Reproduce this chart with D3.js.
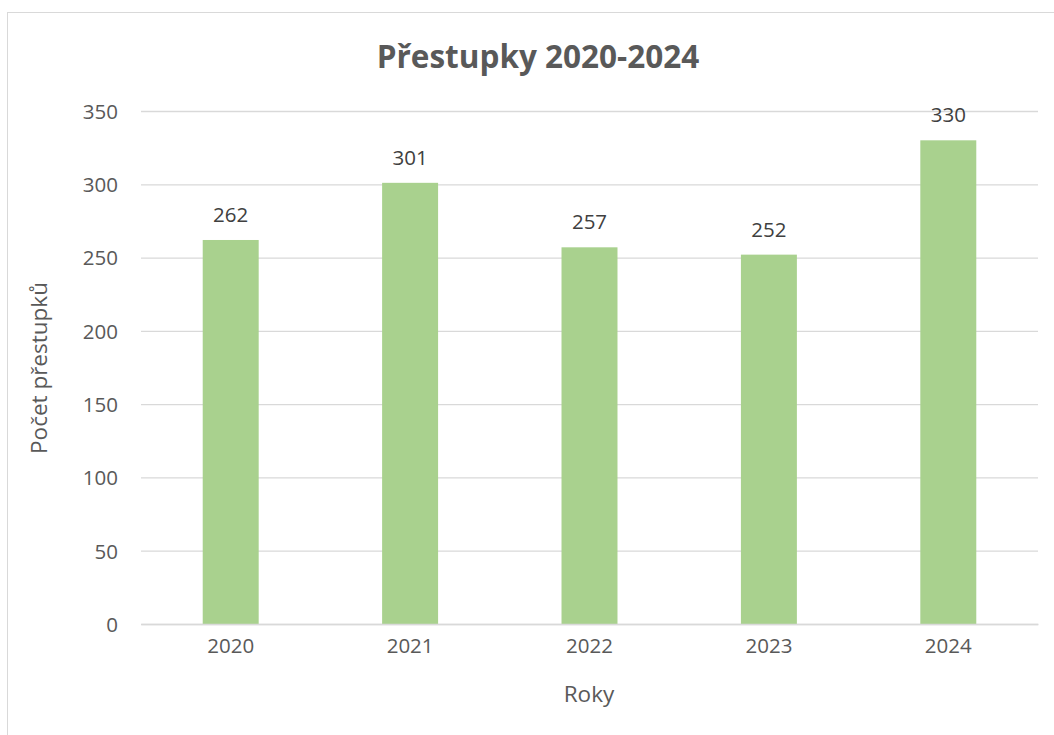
<!DOCTYPE html>
<html>
<head>
<meta charset="utf-8">
<script src="https://cdn.jsdelivr.net/npm/d3@7"></script>
<style>
  html, body { margin: 0; padding: 0; background: #fff; }
  svg { display: block; }
  text { font-family: "Open Sans", "DejaVu Sans", sans-serif; }
</style>
</head>
<body>
<svg id="chart" width="1054" height="735"></svg>
<script>
const categories = ["2020", "2021", "2022", "2023", "2024"];
const values = [262, 301, 257, 252, 330];
const yTicks = [0, 50, 100, 150, 200, 250, 300, 350];
const titleText = "Přestupky 2020-2024";
const xTitle = "Roky";
const yTitle = "Počet přestupků";

const svg = d3.select("#chart");
const W = 1054, H = 735;
const plot = { left: 141, right: 1038, top: 111, bottom: 624 };

svg.append("rect").attr("width", W).attr("height", H).attr("fill", "#fff");
// chart border
svg.append("rect")
  .attr("x", 7.5).attr("y", 12.5)
  .attr("width", W + 10).attr("height", H + 10)
  .attr("fill", "none").attr("stroke", "#D9D9D9").attr("stroke-width", 1);

const x = d3.scaleBand().domain(categories).range([plot.left, plot.right]).paddingInner(0.688).paddingOuter(0.344);
const y = d3.scaleLinear().domain([0, 350]).range([plot.bottom, plot.top]);

// gridlines
const yAxis = d3.axisLeft(y).tickValues(yTicks).tickSize(-(plot.right - plot.left)).tickPadding(23).tickFormat(d3.format("d"));
const gy = svg.append("g").attr("transform", `translate(${plot.left},0)`).call(yAxis);
gy.select(".domain").remove();
gy.selectAll(".tick line").attr("stroke", "#D9D9D9").attr("stroke-width", 1.3);
gy.selectAll(".tick text").attr("fill", "#595959").style("font-size", "20.5px").attr("dy", "0.36em");

// bars
svg.append("g").selectAll("rect").data(values).join("rect")
  .attr("x", (d, i) => x(categories[i]))
  .attr("y", d => y(d))
  .attr("width", x.bandwidth())
  .attr("height", d => y(0) - y(d))
  .attr("fill", "#A9D18E");

// x axis baseline
const xAxis = d3.axisBottom(x).tickSize(0).tickPadding(22);
const gx = svg.append("g").attr("transform", `translate(0,${plot.bottom})`).call(xAxis);
gx.select(".domain").attr("stroke", "#D9D9D9").attr("stroke-width", 1.3);
gx.selectAll(".tick text").attr("fill", "#595959").style("font-size", "20.5px").attr("dy", "0.36em");

// data labels
svg.append("g").selectAll("text").data(values).join("text")
  .attr("x", (d, i) => x(categories[i]) + x.bandwidth() / 2)
  .attr("y", d => y(d) - 18)
  .attr("text-anchor", "middle")
  .attr("fill", "#404040")
  .style("font-size", "20.5px")
  .text(d => d);

// title
svg.append("text")
  .attr("x", 538).attr("y", 68)
  .attr("text-anchor", "middle")
  .attr("fill", "#595959")
  .style("font-size", "31.5px").style("font-weight", "bold")
  .text(titleText);

// axis titles
svg.append("text")
  .attr("x", 589).attr("y", 702)
  .attr("text-anchor", "middle")
  .attr("fill", "#595959")
  .style("font-size", "22.5px")
  .text(xTitle);

svg.append("text")
  .attr("transform", "translate(47,368) rotate(-90)")
  .attr("text-anchor", "middle")
  .attr("fill", "#595959")
  .style("font-size", "22.5px")
  .text(yTitle);
</script>
</body>
</html>
